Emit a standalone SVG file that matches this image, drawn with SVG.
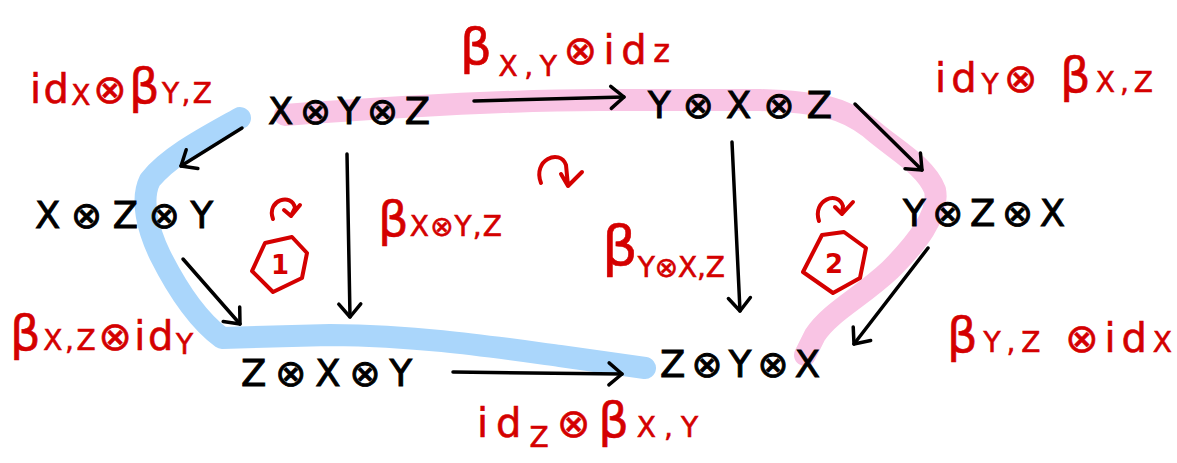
<svg xmlns="http://www.w3.org/2000/svg" width="1177" height="463" viewBox="0 0 1177 463">
  <style>
    .obj { font-family: "DejaVu Sans", "Liberation Sans", sans-serif; font-size: 37px; fill: #000; stroke: #000; stroke-width: 0.9; }
    .lbl { font-family: "DejaVu Sans", "Liberation Sans", sans-serif; font-size: 40px; fill: #d40000; stroke: #d40000; stroke-width: 0.6; }
    .sub { font-size: 28px; }
    .arrow { fill: none; stroke: #000; stroke-width: 3.5; stroke-linecap: round; marker-end: url(#ah); }
    .hl { fill: none; stroke-width: 22; stroke-linecap: round; stroke-linejoin: round; }
    .red { fill: none; stroke: #d40000; stroke-width: 4; stroke-linecap: round; stroke-linejoin: round; }
    .num { font-family: "DejaVu Sans", "Liberation Sans", sans-serif; font-size: 26px; font-weight: bold; fill: #d40000; }
  </style>
  <defs>
    <marker id="ah" viewBox="-20 -15 30 30" refX="0" refY="0" markerWidth="30" markerHeight="30" orient="auto" markerUnits="userSpaceOnUse">
      <path d="M-13,-11 L0,0 L-13,11" fill="none" stroke="#000" stroke-width="3.5" stroke-linecap="round" stroke-linejoin="round"/>
    </marker>
  </defs>
  <rect width="1177" height="463" fill="#fff"/>

  <!-- highlighted paths around the hexagon -->
  <g id="highlights">
    <path class="hl" stroke="#aad6fb" d="M240,118 C210,135 170,155 150,180 C140,200 148,230 160,255 C175,285 195,318 222,338 L330,335 C420,336 480,345 560,356 L645,368"/>
    <path class="hl" stroke="#f9c4e4" d="M285,115 C380,108 500,100 600,100 L760,100 C820,102 845,108 870,128 C895,150 925,165 935,190 C940,215 915,245 890,270 C860,298 830,312 815,335 L805,355"/>
  </g>

  <!-- morphisms -->
  <g id="connectors">
    <path class="arrow" d="M474,101 L624,97"/>
    <path class="arrow" d="M242,128 L181,166"/>
    <path class="arrow" d="M347,154 L350,317"/>
    <path class="arrow" d="M183,259 L240,324"/>
    <path class="arrow" d="M453,372 L622,374"/>
    <path class="arrow" d="M732,142 L740,311"/>
    <path class="arrow" d="M855,104 L922,170"/>
    <path class="arrow" d="M928,248 L854,344"/>
  </g>

  <!-- objects -->
  <g id="XYZ"><text class="obj" x="268" y="124" textLength="162" lengthAdjust="spacing">X⊗Y⊗Z</text></g>
  <g id="YXZ"><text class="obj" x="648" y="118" textLength="184" lengthAdjust="spacing">Y⊗X⊗Z</text></g>
  <g id="XZY"><text class="obj" x="35" y="228" textLength="178" lengthAdjust="spacing">X⊗Z⊗Y</text></g>
  <g id="YZX"><text class="obj" x="903" y="226" textLength="162" lengthAdjust="spacing">Y⊗Z⊗X</text></g>
  <g id="ZXY"><text class="obj" x="241" y="386" textLength="171" lengthAdjust="spacing">Z⊗X⊗Y</text></g>
  <g id="ZYX"><text class="obj" x="660" y="377" textLength="160" lengthAdjust="spacing">Z⊗Y⊗X</text></g>

  <!-- morphism labels -->
  <g id="labels">
    <text class="lbl" x="460" y="64" textLength="210" lengthAdjust="spacing"><tspan font-size="50">β</tspan><tspan class="sub" dy="12">X,Y</tspan><tspan dy="-12">⊗id</tspan><tspan font-size="32" dy="-2">z</tspan></text>
    <text class="lbl" x="30" y="103" textLength="182" lengthAdjust="spacing">id<tspan class="sub" dy="2">X</tspan><tspan dy="-2">⊗</tspan><tspan font-size="48">β</tspan><tspan class="sub">Y,Z</tspan></text>
    <text class="lbl" x="935" y="92" textLength="218" lengthAdjust="spacing">id<tspan class="sub" dy="2">Y</tspan><tspan dy="-2">⊗ </tspan><tspan font-size="48">β</tspan><tspan class="sub">X,Z</tspan></text>
    <text class="lbl" x="378" y="236" textLength="124" lengthAdjust="spacing"><tspan font-size="48">β</tspan><tspan class="sub">X⊗Y,Z</tspan></text>
    <text class="lbl" x="602" y="265" textLength="123" lengthAdjust="spacing"><tspan font-size="56">β</tspan><tspan class="sub" dy="12">Y⊗X,Z</tspan></text>
    <text class="lbl" x="10" y="350" textLength="183" lengthAdjust="spacing"><tspan font-size="48">β</tspan><tspan class="sub">X,Z</tspan>⊗id<tspan class="sub" dy="4">Y</tspan></text>
    <text class="lbl" x="947" y="352" textLength="225" lengthAdjust="spacing"><tspan font-size="48">β</tspan><tspan class="sub">Y,Z</tspan> ⊗id<tspan class="sub">X</tspan></text>
    <text class="lbl" x="477" y="437" textLength="221" lengthAdjust="spacing">id<tspan class="sub" dy="10">Z</tspan><tspan dy="-10">⊗</tspan><tspan font-size="48">β</tspan><tspan class="sub">X,Y</tspan></text>
  </g>

  <!-- 2-cell marks -->
  <g id="cell-outer">
    <path class="red" d="M541,183 C532,160 560,148 566,165 L568,186 M561,174 L568,186 L582,172"/>
  </g>
  <g id="cell-1">
    <path class="red" d="M273,219 C266,200 292,192 295,208 L291,216 M284,210 L291,216 L300,205"/>
    <polygon class="red" points="265,243 292,237 307,253 302,278 273,292 252,271"/>
    <text class="num" x="280" y="274" text-anchor="middle">1</text>
  </g>
  <g id="cell-2">
    <path class="red" d="M819,221 C812,200 838,190 843,206 L842,214 M835,207 L842,214 L853,202"/>
    <polygon class="red" points="822,235 844,232 866,248 860,278 833,293 803,272"/>
    <text class="num" x="834" y="273" text-anchor="middle">2</text>
  </g>
</svg>
